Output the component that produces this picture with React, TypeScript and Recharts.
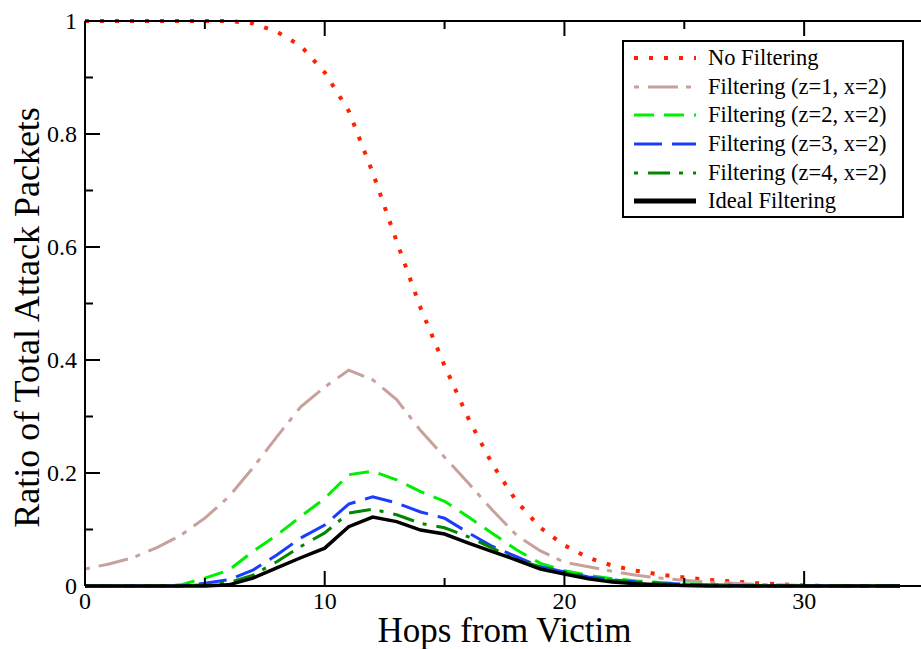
import { LineChart, Line, XAxis, YAxis } from 'recharts';

const hops = [
  0, 1, 2, 3, 4, 5, 6, 7, 8, 9, 10, 11, 12, 13, 14, 15, 16, 17, 18, 19, 20,
  21, 22, 23, 24, 25, 26, 27, 28, 29, 30, 31, 32, 33, 34,
];

const noFiltering = [
  1, 1, 1, 1, 1, 1, 1, 0.996, 0.981, 0.956, 0.909, 0.841, 0.732, 0.61, 0.492,
  0.39, 0.296, 0.215, 0.15, 0.103, 0.072, 0.05, 0.036, 0.027, 0.02, 0.015,
  0.011, 0.008, 0.005, 0.003, 0.001, 0, 0, 0, 0,
];
const filterZ1 = [
  0.03, 0.039, 0.05, 0.068, 0.09, 0.12, 0.158, 0.209, 0.264, 0.317, 0.352,
  0.382, 0.365, 0.33, 0.275, 0.228, 0.182, 0.134, 0.09, 0.062, 0.042, 0.034,
  0.026, 0.019, 0.014, 0.01, 0.007, 0.005, 0.003, 0.002, 0.001, 0.001, 0, 0, 0,
];
const filterZ2 = [
  0, 0, 0, 0, 0.002, 0.014, 0.028, 0.061, 0.09, 0.123, 0.155, 0.197, 0.203,
  0.188, 0.167, 0.15, 0.122, 0.093, 0.064, 0.04, 0.027, 0.019, 0.013, 0.009,
  0.006, 0.004, 0.003, 0.002, 0.001, 0, 0, 0, 0, 0, 0,
];
const filterZ3 = [
  0, 0, 0, 0, 0, 0.005, 0.011, 0.028, 0.055, 0.085, 0.108, 0.145, 0.158,
  0.147, 0.131, 0.12, 0.094, 0.07, 0.052, 0.034, 0.025, 0.016, 0.011, 0.007,
  0.005, 0.003, 0.002, 0.001, 0, 0, 0, 0, 0, 0, 0,
];
const filterZ4 = [
  0, 0, 0, 0, 0, 0.002, 0.006, 0.019, 0.043, 0.07, 0.094, 0.129, 0.136,
  0.126, 0.111, 0.103, 0.087, 0.067, 0.046, 0.034, 0.023, 0.015, 0.01, 0.006,
  0.004, 0.002, 0.001, 0, 0, 0, 0, 0, 0, 0, 0,
];
const idealFiltering = [
  0, 0, 0, 0, 0, 0, 0.002, 0.014, 0.032, 0.05, 0.067, 0.105, 0.122, 0.114,
  0.099, 0.092, 0.076, 0.061, 0.046, 0.03, 0.021, 0.013, 0.007, 0.004, 0.002,
  0.001, 0, 0, 0, 0, 0, 0, 0, 0, 0,
];

const xTicks = [0, 5, 10, 15, 20, 25, 30, 35];
const yTicks = [0, 0.1, 0.2, 0.3, 0.4, 0.5, 0.6, 0.7, 0.8, 0.9, 1];

const series = [
  { key: 'none', name: 'No Filtering', values: noFiltering, color: '#ff2200', width: 4, dash: '4 11' },
  { key: 'z1', name: 'Filtering (z=1, x=2)', values: filterZ1, color: '#c8a09c', width: 3, dash: '5 9 30 8' },
  { key: 'z2', name: 'Filtering (z=2, x=2)', values: filterZ2, color: '#00ee00', width: 3, dash: '20 10' },
  { key: 'z3', name: 'Filtering (z=3, x=2)', values: filterZ3, color: '#1a3cff', width: 3, dash: '28 10' },
  { key: 'z4', name: 'Filtering (z=4, x=2)', values: filterZ4, color: '#008800', width: 3, dash: '4 10 22 9' },
  { key: 'ideal', name: 'Ideal Filtering', values: idealFiltering, color: '#000000', width: 3.5, dash: undefined },
];

const data = hops.map((h, i) => {
  const row: Record<string, number> = { hop: h };
  series.forEach((s) => {
    row[s.key] = s.values[i];
  });
  return row;
});

const FONT = '"Liberation Serif", "Times New Roman", serif';

const isMajorX = (v: number) => v % 10 === 0;
const isMajorY = (v: number) => Math.round(v * 10) % 2 === 0;

const BottomTick = (props: any) => {
  const { x, y, payload } = props;
  const major = isMajorX(payload.value);
  return (
    <g>
      <line x1={x} x2={x} y1={y} y2={y - (major ? 15 : 8)} stroke="#000" strokeWidth={2} />
      {major && (
        <text x={x} y={y + 23} textAnchor="middle" fontSize={24} fontFamily={FONT} fill="#000">
          {payload.value}
        </text>
      )}
    </g>
  );
};

const TopTick = (props: any) => {
  const { x, y, payload } = props;
  const major = isMajorX(payload.value);
  return <line x1={x} x2={x} y1={y} y2={y + (major ? 15 : 8)} stroke="#000" strokeWidth={2} />;
};

const LeftTick = (props: any) => {
  const { x, y, payload } = props;
  const major = isMajorY(payload.value);
  return (
    <g>
      <line x1={x} x2={x + (major ? 15 : 8)} y1={y} y2={y} stroke="#000" strokeWidth={2} />
      {major && (
        <text x={x - 8} y={y + 8} textAnchor="end" fontSize={24} fontFamily={FONT} fill="#000">
          {String(Math.round(payload.value * 10) / 10)}
        </text>
      )}
    </g>
  );
};

const RightTick = (props: any) => {
  const { x, y, payload } = props;
  const major = isMajorY(payload.value);
  return <line x1={x} x2={x - (major ? 15 : 8)} y1={y} y2={y} stroke="#000" strokeWidth={2} />;
};

// legend drawn as an overlay so it doesn't shrink the plot area
const LegendBox = () => (
  <div
    style={{
      position: 'absolute',
      left: 622,
      top: 40,
      border: '2px solid #000',
      background: '#fff',
      width: 278,
      height: 172,
      paddingTop: 2,
    }}
  >
    {series.map((s) => (
      <div key={s.key} style={{ display: 'flex', alignItems: 'center', height: 28.6 }}>
        <svg width={74} height={12} style={{ marginLeft: 10 }}>
          <line
            x1={0}
            x2={62}
            y1={6}
            y2={6}
            stroke={s.color}
            strokeWidth={s.key === 'ideal' ? 5 : s.width}
            strokeDasharray={s.dash}
          />
        </svg>
        <span style={{ fontFamily: FONT, fontSize: 22.5, color: '#000', lineHeight: '24px' }}>{s.name}</span>
      </div>
    ))}
  </div>
);

export default function App() {
  return (
    <div
      style={{
        position: 'fixed',
        left: 0,
        top: 0,
        width: 921,
        height: 649,
        overflow: 'hidden',
        background: '#fff',
      }}
    >
      <LineChart width={925} height={649} data={data} margin={{ top: 20, right: 0, bottom: 0, left: 0 }}>
        <XAxis
          xAxisId="bottom"
          dataKey="hop"
          type="number"
          domain={[0, 35]}
          ticks={xTicks}
          interval={0}
          height={63}
          tickSize={0}
          tickMargin={0}
          tickLine={false}
          tick={BottomTick}
          axisLine={{ stroke: '#000', strokeWidth: 2 }}
          label={{
            value: 'Hops from Victim',
            position: 'insideBottom',
            offset: 7,
            style: { fontFamily: FONT, fontSize: 35, fill: '#000' },
          }}
        />
        <XAxis
          xAxisId="top"
          orientation="top"
          dataKey="hop"
          type="number"
          domain={[0, 35]}
          ticks={xTicks}
          interval={0}
          height={1}
          tickSize={0}
          tickMargin={0}
          tickLine={false}
          tick={TopTick}
          axisLine={{ stroke: '#000', strokeWidth: 2 }}
        />
        <YAxis
          yAxisId="left"
          type="number"
          domain={[0, 1]}
          ticks={yTicks}
          interval={0}
          width={85}
          tickSize={0}
          tickMargin={0}
          tickLine={false}
          tick={LeftTick}
          axisLine={{ stroke: '#000', strokeWidth: 2 }}
          label={{
            content: (p: any) => {
              const vb = p.viewBox || { y: 21, height: 565 };
              const cy = vb.y + vb.height / 2 + 14;
              return (
                <text
                  transform={`translate(39, ${cy}) rotate(-90)`}
                  textAnchor="middle"
                  fontSize={36}
                  fontFamily={FONT}
                  fill="#000"
                >
                  Ratio of Total Attack Packets
                </text>
              );
            },
          }}
        />
        <YAxis
          yAxisId="right"
          orientation="right"
          type="number"
          domain={[0, 1]}
          ticks={yTicks}
          interval={0}
          width={1}
          tickSize={0}
          tickMargin={0}
          tickLine={false}
          tick={RightTick}
          axisLine={{ stroke: '#000', strokeWidth: 2 }}
        />
        {series.map((s) => (
          <Line
            key={s.key}
            xAxisId="bottom"
            yAxisId="left"
            type="linear"
            dataKey={s.key}
            name={s.name}
            stroke={s.color}
            strokeWidth={s.width}
            strokeDasharray={s.dash}
            dot={false}
            activeDot={false}
            isAnimationActive={false}
          />
        ))}
      </LineChart>
      <LegendBox />
    </div>
  );
}
